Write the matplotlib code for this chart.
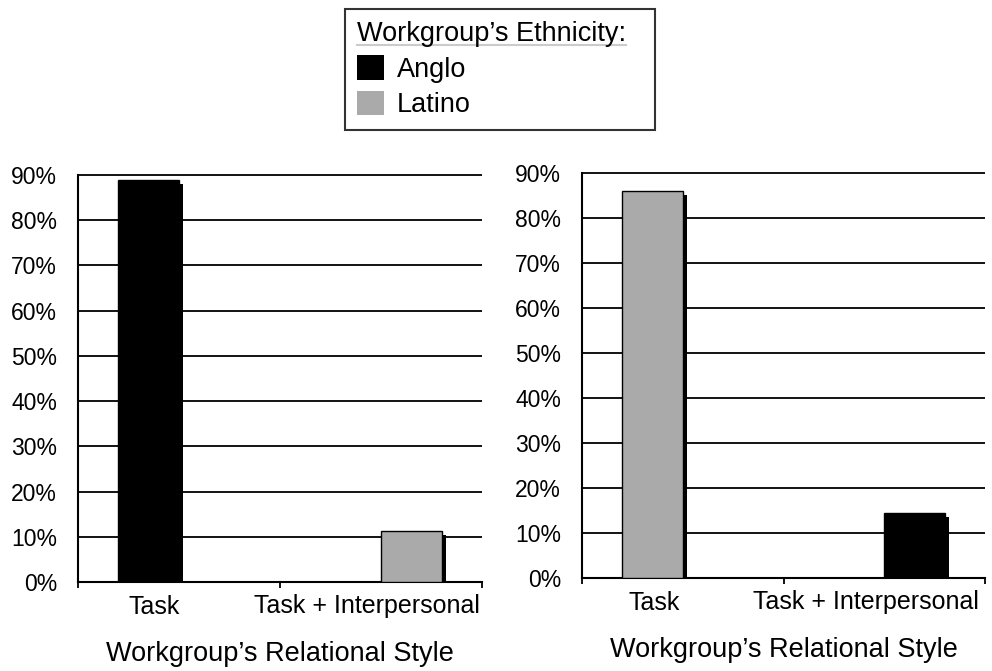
import numpy as np
import matplotlib
matplotlib.use("Agg")
import matplotlib.pyplot as plt
from matplotlib.patches import Patch
from matplotlib.ticker import FixedLocator

plt.rcParams['font.family'] = ['Liberation Sans', 'DejaVu Sans']

# ================= DATA =================
categories = ["Task", "Task + Interpersonal"]
left_values = [88.8, 11.3]
left_groups = ["Anglo", "Latino"]
right_values = [86.0, 14.4]
right_groups = ["Latino", "Anglo"]
y_ticks = [0, 10, 20, 30, 40, 50, 60, 70, 80, 90]
legend_title = "Workgroup\u2019s Ethnicity:"
x_title = "Workgroup\u2019s Relational Style"

# ================= STYLE =================
COLORS = {"Anglo": "#000000", "Latino": "#aaaaaa"}
BAR_W = 0.30
OFFSETS = [-0.15, 0.15]
SHADOW_DX = 0.022
SHADOW_DY = 0.8

fig = plt.figure(figsize=(9.92, 6.71), dpi=100)
ax_left = fig.add_axes([78/992, 89/671, 404/992, 407/671])
ax_right = fig.add_axes([582/992, 93/671, 403/992, 405/671])


def draw_panel(ax, values, groups, label_pos):
    x = np.arange(len(categories)) + 0.5 + np.array(OFFSETS)
    # dark offset "3D" shadow behind each bar
    ax.bar(x + SHADOW_DX, np.array(values) - SHADOW_DY, width=BAR_W,
           color='black', zorder=2)
    ax.bar(x, values, width=BAR_W, color=[COLORS[g] for g in groups],
           edgecolor='black', linewidth=1.0, zorder=3)

    ax.set_xlim(0, 2)
    ax.set_ylim(0, 90)
    ax.hlines(y_ticks[1:], 0, 2, color='black', linewidth=1.3,
              zorder=1, clip_on=False)

    ax.set_yticks(y_ticks)
    ax.set_yticklabels([f"{v}%" for v in y_ticks], fontsize=16.5)
    ax.tick_params(axis='y', length=0, pad=15)

    ax.set_xticks(label_pos)
    ax.set_xticklabels(categories, fontsize=18)
    ax.tick_params(axis='x', which='major', length=0, pad=9)
    ax.xaxis.set_minor_locator(FixedLocator([0, 1, 2]))
    ax.tick_params(axis='x', which='minor', direction='out', length=4,
                   width=1.3)
    ax.set_xlabel(x_title, fontsize=19.5, labelpad=16)

    for s in ['top', 'right']:
        ax.spines[s].set_visible(False)
    for s in ['left', 'bottom']:
        ax.spines[s].set_linewidth(1.5)


draw_panel(ax_left, left_values, left_groups, [0.375, 1.43])
draw_panel(ax_right, right_values, right_groups, [0.36, 1.41])

handles = [Patch(facecolor=COLORS["Anglo"], edgecolor='none', label="Anglo"),
           Patch(facecolor=COLORS["Latino"], edgecolor='none', label="Latino")]
leg = fig.legend(handles=handles, title=legend_title, loc='upper left',
                 bbox_to_anchor=(345/992, 1 - 9/671 - 0.01, 310/992, 0.01),
                 mode='expand', borderaxespad=0, fontsize=19.5,
                 title_fontsize=19.5, frameon=True, fancybox=False,
                 edgecolor='black', handlelength=1.0, handleheight=1.0,
                 handletextpad=0.45, labelspacing=0.3, borderpad=0.45,
                 alignment='left')
leg.get_frame().set_linewidth(1.5)

# underline the legend title
fig.canvas.draw()
bb = leg.get_title().get_window_extent().transformed(fig.transFigure.inverted())
fig.add_artist(plt.Line2D([bb.x0, bb.x1], [bb.y0 + 0.003, bb.y0 + 0.003],
                          color='black', linewidth=1.5,
                          transform=fig.transFigure))

fig.savefig("out.png", dpi=100)
